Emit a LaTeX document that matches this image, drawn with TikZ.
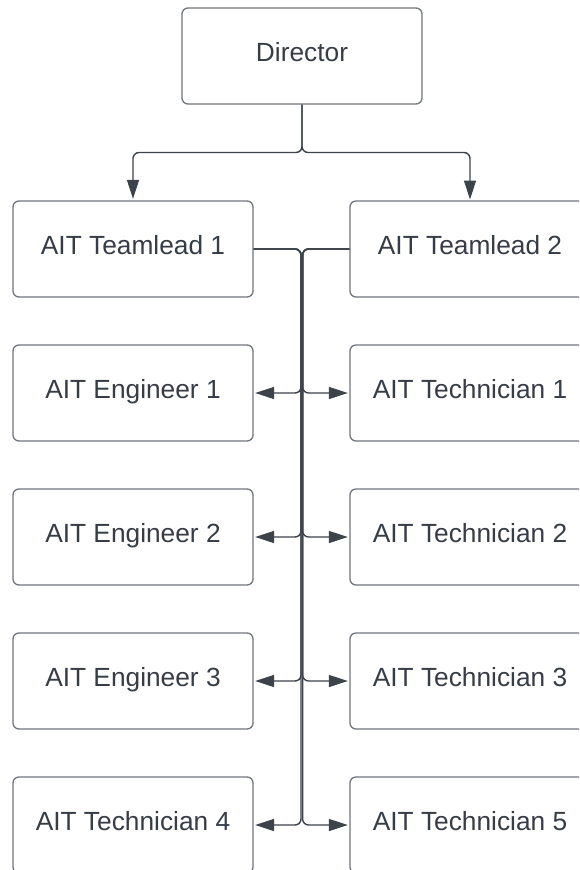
\documentclass[tikz,border=0pt]{standalone}
\usepackage{fontspec}
\setmainfont{Liberation Sans}
\usetikzlibrary{arrows.meta}
\definecolor{boxline}{HTML}{70757C}
\definecolor{wire}{HTML}{3D434B}
\definecolor{ink}{HTML}{363D47}
\begin{document}
\begin{tikzpicture}[x=1pt,y=-1pt,
  box/.style={draw=boxline,line width=1.3pt,rounded corners=6pt,fill=white,
    minimum width=240pt,minimum height=96pt,inner sep=0pt,text=ink,
    text height=18.5pt,text depth=8pt,
    font=\fontsize{26.3}{30}\selectfont},
  % right-hand boxes run well past the page edge; text kept centred on x=470
  widebox/.style={box,minimum width=360pt},
  conn/.style={draw=wire,line width=1.4pt,rounded corners=6pt,
    -{Triangle[length=19pt,width=12pt]},shorten >=1.5pt}]
\useasboundingbox (0,0) rectangle (579,870);
\begin{scope}
\clip (-5,-5) rectangle (579,870);

% boxes
\node[box] (dir) at (302,56) {Director};
\node[box] (tl1) at (133,249) {AIT Teamlead 1};
\node[widebox] (tl2) at (530,249) {AIT Teamlead 2\hspace*{120pt}};
\node[box] (eng1) at (133,393) {AIT Engineer 1};
\node[box] (eng2) at (133,537) {AIT Engineer 2};
\node[box] (eng3) at (133,681) {AIT Engineer 3};
\node[box] (tec4) at (133,825) {AIT Technician 4};
\node[widebox] (tec1) at (530,393) {AIT Technician 1\hspace*{120pt}};
\node[widebox] (tec2) at (530,537) {AIT Technician 2\hspace*{120pt}};
\node[widebox] (tec3) at (530,681) {AIT Technician 3\hspace*{120pt}};
\node[widebox] (tec5) at (530,825) {AIT Technician 5\hspace*{120pt}};

% vertical trunks and split level
\coordinate (split) at (302,152.5);
\coordinate (trunkL) at (301,0);
\coordinate (trunkR) at (302.6,0);
\coordinate (tl2top) at (470,201);

% director to team leads
\draw[conn] (dir.south) -- (split) -| (tl1.north);
\draw[conn] (dir.south) -- (split) -| (tl2top);

% team lead 1 to its staff
\foreach \t in {eng1,eng2,eng3,tec4}
  \draw[conn] (tl1.east) -- (tl1.east -| trunkL) |- (\t.east);

% team lead 2 to its staff
\foreach \t in {tec1,tec2,tec3,tec5}
  \draw[conn] (tl2.west) -- (tl2.west -| trunkR) |- (\t.west);
\end{scope}
\end{tikzpicture}
\end{document}
